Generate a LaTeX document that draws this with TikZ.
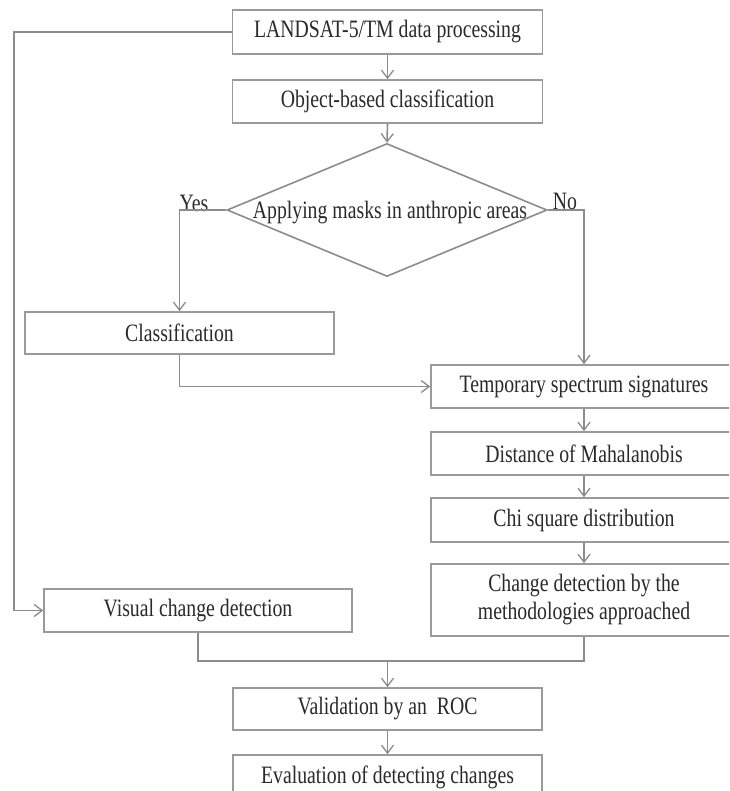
\documentclass[tikz,border=0pt]{standalone}
\usepackage{fontspec}
\setmainfont{Liberation Serif}[FakeStretch=0.79]
\usetikzlibrary{shapes.geometric,arrows.meta}
\definecolor{linegray}{HTML}{8C8C8C}
\definecolor{boxgray}{HTML}{9A9A9A}
\definecolor{txt}{HTML}{2A2A2A}
\begin{document}
\begin{tikzpicture}[x=1pt,y=-1pt,
  box/.style={draw=boxgray,line width=1.6pt,fill=white,inner sep=0pt,text=txt,
    font=\fontsize{25}{28}\selectfont,align=center},
  conn/.style={draw=linegray,line width=1.6pt},
  arr/.style={conn,-{Straight Barb[length=8pt,width=12pt,line width=1.3pt]}},
  lab/.style={text=txt,font=\fontsize{25}{28}\selectfont,inner sep=0pt}]
\clip (0,0) rectangle (729,791);
\fill[white] (0,0) rectangle (729,791);
% left / centre column
\node[box,minimum width=310,minimum height=44] (land) at (387.5,32) {LANDSAT-5/TM data processing};
\node[box,minimum width=310,minimum height=43] (obj) at (387.5,101.5) {Object-based classification};
\node[diamond,draw=linegray,line width=1.6pt,minimum width=320,minimum height=133,inner sep=0pt] (dia) at (387,210) {};
\node[lab] (diatext) at (390,213) {Applying masks in anthropic areas};
\node[lab,anchor=south] (yes) at (194,212) {Yes};
\node[lab,anchor=south] (no) at (565,210) {No};
\node[box,minimum width=309,minimum height=42] (cls) at (179.5,333) {Classification};
% right column
\node[box,minimum width=306,minimum height=43] (tmp) at (584,386.5) {Temporary spectrum signatures};
\node[box,minimum width=306,minimum height=43] (dist) at (584,453.5) {Distance of Mahalanobis};
\node[box,minimum width=306,minimum height=44] (chi) at (584,520) {Chi square distribution};
\node[box,minimum width=306,minimum height=72] (chg) at (584,600) {Change detection by the\\methodologies approached};
% bottom
\node[box,minimum width=308,minimum height=43] (vis) at (198,610.5) {Visual change detection};
\node[box,minimum width=309,minimum height=42] (val) at (387.5,709) {Validation by an\ \ ROC};
\node[box,minimum width=309,minimum height=44] (eva) at (387.5,777) {Evaluation of detecting changes};
% connectors
\coordinate (lc) at (14,32);
\coordinate (m) at (387.5,661);
\draw[arr] (land.south) -- (obj.north);
\draw[arr] (obj.south) -- (dia.north);
\draw[arr] (dia.west) -| (cls.north);
\draw[arr] (dia.east) -| (tmp.north);
\draw[arr] (cls.south) |- (tmp.west);
\draw[arr] (tmp.south) -- (dist.north);
\draw[arr] (dist.south) -- (chi.north);
\draw[arr] (chi.south) -- (chg.north);
\draw[arr] (land.west) -- (lc) |- (vis.west);
\draw[conn] (vis.south) -- (vis.south |- m) -- (chg.south |- m) -- (chg.south);
\draw[arr] (m) -- (val.north);
\draw[arr] (val.south) -- (eva.north);
\end{tikzpicture}
\end{document}
